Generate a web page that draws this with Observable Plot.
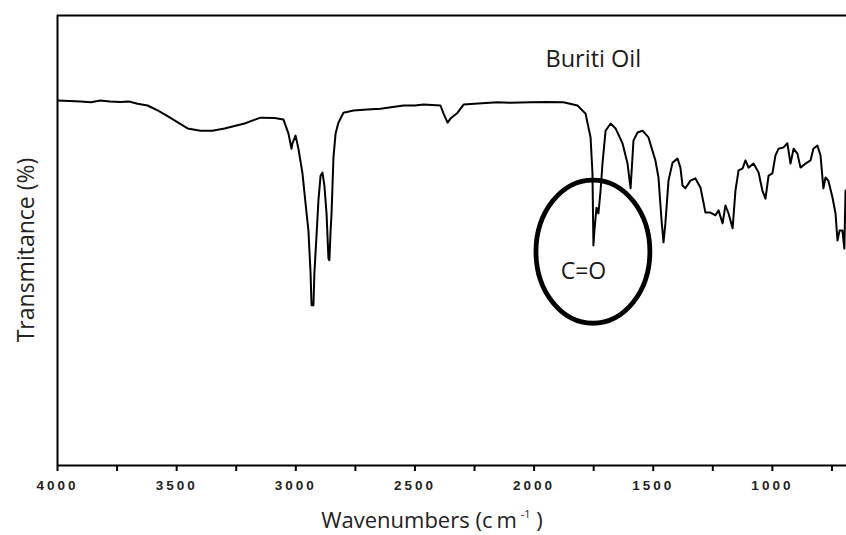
<!DOCTYPE html>
<html>
<head>
<meta charset="utf-8">
<script src="https://cdn.jsdelivr.net/npm/d3@7"></script>
<script src="https://cdn.jsdelivr.net/npm/@observablehq/plot@0.6"></script>
<style>
  html, body { margin: 0; padding: 0; background: #fff; }
  #chart { width: 846px; height: 535px; overflow: hidden; }
</style>
</head>
<body>
<div id="chart"></div>
<script>
// Wavenumber (cm^-1)
const wavenumber = [4000,3950,3903,3860,3820,3780,3736,3700,3664,3622,3580,3543,3509,3454,3400,3350,3299,3215,3148,3089,3052,3031,3018,3014,3001,2989,2972,2959,2947,2938,2934,2926,2922,2913,2905,2896,2888,2880,2871,2863,2859,2854,2850,2842,2833,2821,2800,2758,2700,2645,2600,2548,2500,2464,2393,2380,2363,2351,2321,2296,2250,2154,2100,2015,1950,1877,1818,1784,1763,1755,1751,1747,1738,1730,1721,1713,1700,1679,1658,1629,1608,1595,1583,1566,1545,1520,1491,1478,1465,1457,1449,1436,1419,1398,1386,1377,1365,1344,1323,1302,1289,1281,1260,1239,1226,1209,1197,1184,1167,1155,1142,1125,1113,1100,1079,1058,1042,1029,1016,1000,987,974,953,937,924,911,895,882,861,840,828,811,798,786,777,765,748,735,727,718,706,698,693];
// Transmittance (arbitrary %)
const transmittance = [81.1,81.0,80.9,80.7,81.1,80.9,80.8,80.9,80.4,80.0,78.9,77.8,76.7,74.9,74.4,74.4,74.9,76.0,77.3,77.2,76.9,73.8,70.4,71.6,73.3,70.4,64.9,58.2,52.2,42.7,35.6,35.6,42.7,51.1,58.9,64.4,65.1,62.2,56.0,46.0,45.6,52.2,56.0,68.4,73.8,76.2,78.4,78.9,79.1,79.3,79.6,80.0,80.0,80.2,80.0,78.2,76.2,77.1,78.4,80.2,80.4,80.7,80.6,80.7,80.8,80.7,80.0,78.2,72.9,64.9,48.9,52.2,57.3,56.0,61.1,67.1,74.4,76.0,74.9,71.6,67.1,61.6,72.2,74.0,74.4,72.9,67.8,64.0,54.4,49.6,53.8,63.3,67.3,68.2,66.2,62.2,61.6,63.3,63.8,61.8,58.4,56.2,56.2,55.6,56.7,53.8,57.8,56.0,52.7,61.1,65.6,66.0,67.8,66.2,67.1,65.1,61.1,59.3,64.4,64.9,68.9,70.4,70.7,71.6,67.1,70.4,69.3,66.2,67.1,67.8,70.4,71.1,68.9,61.6,64.0,63.3,59.6,56.0,50.0,52.2,52.2,48.2,61.1];

const majorTicks = [4000, 3500, 3000, 2500, 2000, 1500, 1000];
const minorTicks = [3750, 3250, 2750, 2250, 1750, 1250, 750];

const chartTitle = "Buriti Oil";
const yTitle = "Transmitance (%)";
const annotationLabel = "C=O";
// annotation ellipse: centre and radii in data units
const ellipseCentre = {wn: 1751, t: 47.4};
const ellipseRadius = {wn: 239, t: 15.9};
const labelPos = {wn: 1793, t: 43.1};
const titlePos = {wn: 1952, t: 90.3};

const spectrum = wavenumber.map((w, i) => ({w, t: transmittance[i]}));

const ellipseMark = (index, scales, values, dimensions, context) => {
  const x = scales.x, y = scales.y;
  const cx = x(ellipseCentre.wn), cy = y(ellipseCentre.t);
  const rx = Math.abs(x(ellipseCentre.wn - ellipseRadius.wn) - cx);
  const ry = Math.abs(y(ellipseCentre.t + ellipseRadius.t) - cy);
  const el = context.document.createElementNS("http://www.w3.org/2000/svg", "ellipse");
  el.setAttribute("cx", cx); el.setAttribute("cy", cy);
  el.setAttribute("rx", rx); el.setAttribute("ry", ry);
  el.setAttribute("fill", "none"); el.setAttribute("stroke", "#000");
  el.setAttribute("stroke-width", 4.8);
  return el;
};

const plot = Plot.plot({
  width: 846,
  height: 535,
  marginLeft: 57,
  marginRight: 0,
  marginTop: 15,
  marginBottom: 70,
  style: {fontFamily: "'Open Sans', sans-serif", background: "#fff"},
  x: {domain: [4000, 689], label: null},
  y: {domain: [0, 100], axis: null},
  marks: [
    Plot.line(spectrum, {x: "w", y: "t", stroke: "#000", strokeWidth: 2, clip: true}),
    Plot.ruleX([4000], {stroke: "#000", strokeWidth: 2}),
    Plot.ruleY([0, 100], {stroke: "#000", strokeWidth: 2}),
    Plot.axisX({ticks: majorTicks, tickSize: 6, tickPadding: 9, stroke: "#000", strokeWidth: 2, fontSize: 13.5,
                fill: "#222", tickFormat: d => String(d), label: null}),
    Plot.axisX({ticks: minorTicks, tickSize: 6, stroke: "#000", strokeWidth: 2, tickFormat: () => "", label: null}),
    ellipseMark,
    Plot.text([annotationLabel], {x: labelPos.wn, y: labelPos.t, text: d => d, fontSize: 23, fill: "#1a1a1a",
               fontFamily: "'Open Sans', sans-serif"}),
    Plot.text([chartTitle], {x: titlePos.wn, y: titlePos.t, text: d => d, fontSize: 23.5, fill: "#1a1a1a", textAnchor: "start",
               fontFamily: "'Open Sans', sans-serif"})
  ]
});

const svg = d3.select(plot);
// tick label font
svg.selectAll("[aria-label='x-axis tick label'] text")
  .style("font-family", "'Liberation Sans', Arial, sans-serif")
  .style("font-weight", "600")
  .style("letter-spacing", "3px");

// x-axis title with superscript
const xt = svg.append("text")
  .attr("x", 432).attr("y", 528)
  .attr("text-anchor", "middle")
  .attr("font-family", "'Open Sans', sans-serif")
  .attr("font-size", 22)
  .attr("fill", "#222");
xt.append("tspan").text("Wavenumbers (");
xt.append("tspan").attr("letter-spacing", "4px").text("cm");
xt.append("tspan").attr("dy", -10).attr("font-size", 11).text("-1");
xt.append("tspan").attr("dy", 10).text(" )");

// y-axis title
svg.append("text")
  .attr("transform", "translate(34,250) rotate(-90)")
  .attr("text-anchor", "middle")
  .attr("font-family", "'Open Sans', sans-serif")
  .attr("font-size", 23)
  .attr("fill", "#222")
  .text(yTitle);

document.getElementById("chart").appendChild(plot);
</script>
</body>
</html>
